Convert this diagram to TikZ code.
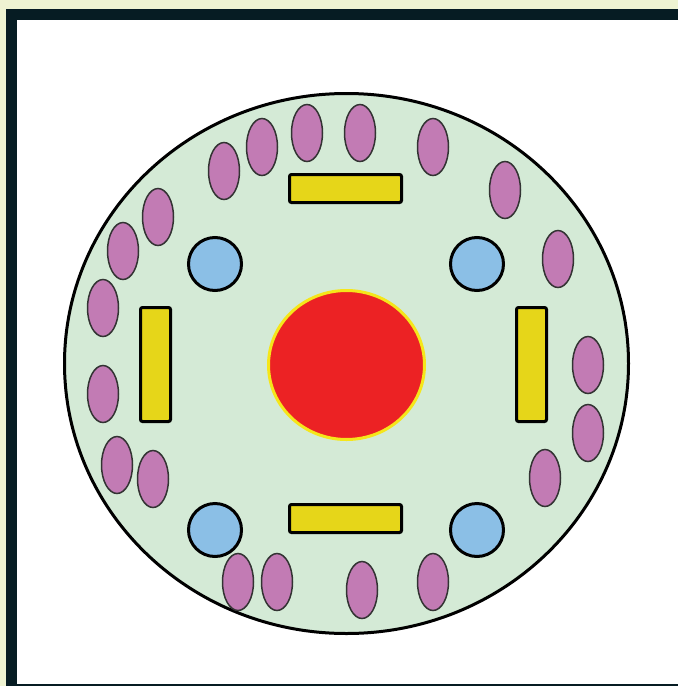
\documentclass[tikz,border=0pt]{standalone}
\usepackage{xcolor}
\usepackage{tikz}
\usetikzlibrary{shapes.geometric}

\definecolor{pageBg}{HTML}{EEF3D2}
\definecolor{frameDark}{HTML}{061C23}
\definecolor{discFill}{HTML}{D4EAD6}
\definecolor{podFill}{HTML}{C27BB4}
\definecolor{podLine}{HTML}{333333}
\definecolor{hubFill}{HTML}{8BBFE6}
\definecolor{barFill}{HTML}{E6D619}
\definecolor{coreFill}{HTML}{EC2224}
\definecolor{coreLine}{HTML}{F5E61A}

\begin{document}
\begin{tikzpicture}[
    x=0.5pt, y=-0.5pt,
    disc/.style={ellipse, draw=black, fill=discFill, minimum width=282pt, minimum height=270pt, inner sep=0pt, line width=1.5pt},
    core/.style={ellipse, draw=coreLine, fill=coreFill, minimum width=78pt, minimum height=74.5pt, inner sep=0pt, line width=1.5pt},
    hub/.style={circle, draw=black, fill=hubFill, minimum size=26.5pt, inner sep=0pt, line width=1.5pt},
    pod/.style={ellipse, draw=podLine, fill=podFill, minimum width=15.5pt, minimum height=28.5pt, inner sep=0pt, line width=0.75pt},
    hbar/.style={rectangle, draw=black, fill=barFill, minimum width=56pt, minimum height=14pt, inner sep=0pt, line width=1.5pt, rounded corners=1pt},
    vbar/.style={rectangle, draw=black, fill=barFill, minimum width=15pt, minimum height=57pt, inner sep=0pt, line width=1.5pt, rounded corners=1pt}
]
    % page and frame
    \useasboundingbox (0,0) rectangle (678,686);
    \fill[pageBg] (0,0) rectangle (678,686);
    \fill[frameDark] (6,9) rectangle (678,686);
    \fill[white] (16.5,19.5) rectangle (678,684);

    % disc and centre
    \node[disc] (base) at (346.5,363.5) {};
    \node[core] (core) at (346.5,365) {};

    % hubs
    \node[hub] (h1) at (215,264) {};
    \node[hub] (h2) at (477,264) {};
    \node[hub] (h3) at (215,530) {};
    \node[hub] (h4) at (477,530) {};

    % bars
    \node[hbar] (bt) at (345.5,188.5) {};
    \node[hbar] (bb) at (345.5,518.5) {};
    \node[vbar] (bl) at (155.5,364.5) {};
    \node[vbar] (br) at (531.5,364.5) {};

    % pods round the rim
    \node[pod] (p1)  at (123,251) {};
    \node[pod] (p2)  at (158,217) {};
    \node[pod] (p3)  at (224,171) {};
    \node[pod] (p4)  at (262,147) {};
    \node[pod] (p5)  at (307,133) {};
    \node[pod] (p6)  at (360,133) {};
    \node[pod] (p7)  at (433,147) {};
    \node[pod] (p8)  at (505,190) {};
    \node[pod] (p9)  at (558,259) {};
    \node[pod] (p10) at (588,365) {};
    \node[pod] (p11) at (588,433) {};
    \node[pod] (p12) at (545,478) {};
    \node[pod] (p13) at (433,582) {};
    \node[pod] (p14) at (362,590) {};
    \node[pod] (p15) at (277,582) {};
    \node[pod] (p16) at (238,582) {};
    \node[pod] (p17) at (153,479) {};
    \node[pod] (p18) at (117,465) {};
    \node[pod] (p19) at (103,394) {};
    \node[pod] (p20) at (103,308) {};
\end{tikzpicture}
\end{document}
